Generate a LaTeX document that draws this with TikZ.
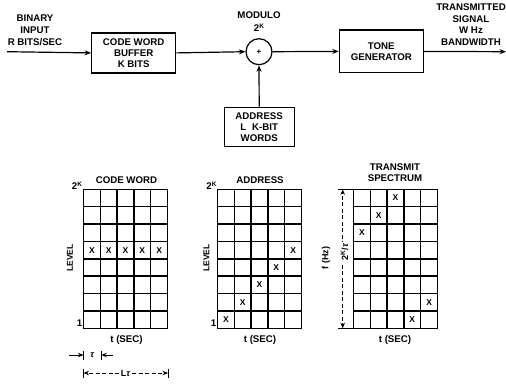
\documentclass[tikz,border=0pt]{standalone}
\usepackage{fontspec}
\setmainfont{Liberation Sans}
\usetikzlibrary{arrows.meta}
\newcommand{\drawgrid}[1]{%
  \begin{scope}[shift={(#1,189.3)}]
    \draw[gridline] (0,0) rectangle (84,139);
    \foreach \i in {1,...,4} \draw[gridline] (\i*16.8,0) -- (\i*16.8,139);
    \foreach \j in {1,...,7} \draw[gridline] (0,\j*17.375) -- (84,\j*17.375);
  \end{scope}}
\newcommand{\xmark}[3]{\node[xm] at ({#1+(#2-0.5)*16.8},{189.3+(#3-0.5)*17.375}) {X};}
\newcommand{\twoK}{2\raisebox{3.2pt}{\fontsize{6.5}{7}\selectfont K}}
\begin{document}
\begin{tikzpicture}[x=1pt,y=-1pt,
  font=\fontsize{9.7}{10.8}\selectfont\bfseries,
  box/.style={draw, line width=1.2pt, align=center, inner sep=0pt},
  arr/.style={line width=1.2pt, -{Stealth[length=6.5pt,width=5pt]}},
  gridline/.style={line width=1.4pt},
  xm/.style={font=\fontsize{8.5}{9}\selectfont\bfseries, inner sep=0pt},
  lab/.style={align=center, inner sep=0pt},
  dimarr/.style={line width=1pt, -{Stealth[length=5.5pt,width=4.5pt]}},
  tick/.style={line width=1pt}]
\useasboundingbox (0,0) rectangle (506,391);

% --- block diagram ---
\node[box, minimum width=84pt, minimum height=40pt] (buf) at (133.7,52.9) {CODE WORD\\BUFFER\\K BITS};
\node[draw, circle, line width=1.2pt, minimum size=26pt, inner sep=0pt] (sum) at (259,51.7) {\fontsize{8}{8}\selectfont +};
\node[box, minimum width=70pt, minimum height=39.4pt] (addr) at (259.2,127) {ADDRESS\\L\hspace{6pt}K-BIT\\WORDS};
\node[box, minimum width=84pt, minimum height=42.7pt] (tone) at (381.3,51.4) {TONE\\GENERATOR};
\coordinate (in) at (7,51.7);
\coordinate (out) at (506,51.7);

\draw[arr] (in) -- (buf.west);
\draw[arr] (buf.east) -- (sum.west);
\draw[arr] (addr.north) -- (sum.south);
\draw[arr] (sum.east) -- (tone.west);
\draw[arr] (tone.east) -- (out);

\node[lab, font=\fontsize{9.7}{12}\selectfont\bfseries] (binlab) at (35,30) {BINARY\\INPUT\\R BITS/SEC};
\node[lab] (modlab) at (259,15.5) {MODULO};
\node[lab] (modk) at (259,27.5) {\twoK};
\node[lab, font=\fontsize{9.7}{11.5}\selectfont\bfseries] (txlab) at (471,24.5) {TRANSMITTED\\SIGNAL\\W Hz\\BANDWIDTH};

% --- grids ---
\drawgrid{83.5}
\drawgrid{217.5}
\drawgrid{353.5}

\foreach \c in {1,...,5} {\xmark{83.5}{\c}{4}}
\xmark{217.5}{1}{8}
\xmark{217.5}{2}{7}
\xmark{217.5}{3}{6}
\xmark{217.5}{4}{5}
\xmark{217.5}{5}{4}
\xmark{353.5}{3}{1}
\xmark{353.5}{2}{2}
\xmark{353.5}{1}{3}
\xmark{353.5}{5}{7}
\xmark{353.5}{4}{8}

% labels code word
\node[lab] (cwt) at (126.5,180) {CODE WORD};
\node[lab] (cwk) at (77,186) {\twoK};
\node[lab] (cw1) at (79.5,323) {1};
\node[lab, rotate=90, font=\fontsize{8.5}{9}\selectfont\bfseries] (cwl) at (70,258) {LEVEL};
\node[lab] (cws) at (126.5,339.5) {t (SEC)};

% labels address
\node[lab] (adt) at (260,180.5) {ADDRESS};
\node[lab] (adk) at (211.5,186) {\twoK};
\node[lab] (ad1) at (213.5,323) {1};
\node[lab, rotate=90, font=\fontsize{8.5}{9}\selectfont\bfseries] (adl) at (206.5,258) {LEVEL};
\node[lab] (ads) at (260,339.5) {t (SEC)};

% labels transmit
\node[lab, font=\fontsize{9.7}{11}\selectfont\bfseries] (tst) at (395,172.5) {TRANSMIT\\SPECTRUM};
\node[lab, rotate=90, font=\fontsize{9}{9}\selectfont\bfseries] (tsf) at (326,258) {f (Hz)};
\node[lab] (tss) at (395,339.5) {t (SEC)};

% transmit bandwidth dimension
\coordinate (bt) at (342.7,189.3);
\coordinate (bb) at (342.7,328.3);
\draw[tick] (338,189.3) -- (353.5,189.3);
\draw[tick] (338,328.3) -- (353.5,328.3);
\draw[dimarr, dash pattern=on 4pt off 2.5pt] (342.7,258) -- (bt);
\draw[dimarr, dash pattern=on 4pt off 2.5pt] (342.7,258) -- (bb);
\node[lab, rotate=90, fill=white, inner sep=1.5pt, font=\fontsize{9}{9}\selectfont\bfseries] (bwl) at (344.5,252) {\twoK/\textit{τ}};

% tau dimension
\coordinate (ta) at (83.5,355);
\coordinate (tb) at (101.3,355);
\coordinate (tal) at (69,355);
\coordinate (tbr) at (112.5,355);
\draw[tick] (83.5,350.5) -- (83.5,359.5);
\draw[tick] (101.3,350.5) -- (101.3,359.5);
\draw[dimarr] (tal) -- (ta);
\draw[dimarr] (tbr) -- (tb);
\node[lab, font=\fontsize{9}{9}\selectfont\bfseries] (taul) at (92.4,355) {\textit{τ}};

% L tau dimension
\coordinate (la) at (83.5,373);
\coordinate (lb) at (168,373);
\draw[tick] (83.5,368.5) -- (83.5,377.5);
\draw[tick] (168,368.5) -- (168,377.5);
\draw[dimarr, dash pattern=on 4pt off 2.5pt] (125.7,373) -- (la);
\draw[dimarr, dash pattern=on 4pt off 2.5pt] (125.7,373) -- (lb);
\node[lab, fill=white, inner sep=1.5pt, font=\fontsize{9}{9}\selectfont\bfseries] (ltl) at (125.7,373) {L\textit{τ}};
\end{tikzpicture}
\end{document}
